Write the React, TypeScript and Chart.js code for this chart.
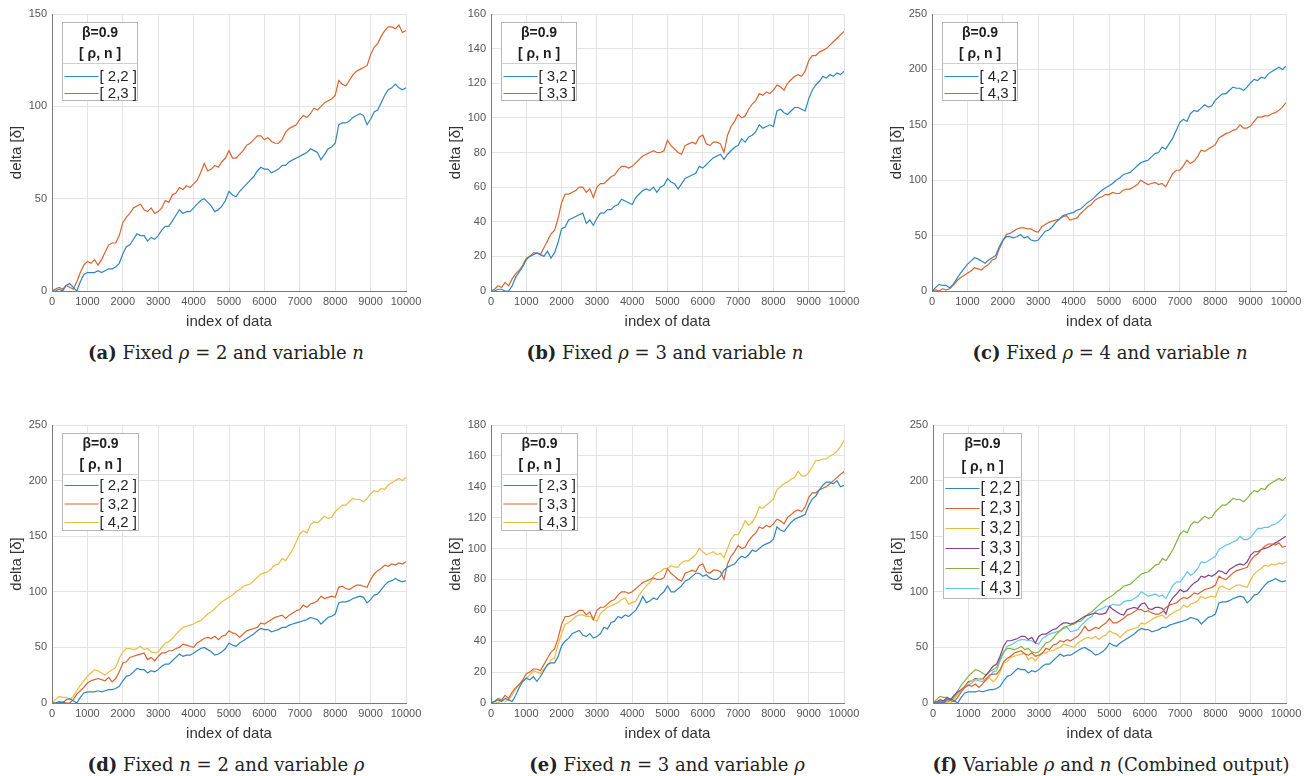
import React, { useEffect, useRef } from "react";
import { Chart, registerables } from "chart.js";
Chart.register(...registerables);

// ---------- DATA ----------
// index of data (sampled every 100 points)
const indexOfData: number[] = Array.from({ length: 101 }, (_, i) => i * 100);
const xTicks: number[] = [0, 1000, 2000, 3000, 4000, 5000, 6000, 7000, 8000, 9000, 10000];

// delta values for each [rho, n] configuration (beta = 0.9)
const s22: number[] = [0, 0, 1, 0, 3, 4, 2, 0, 5, 9,
  10, 10, 10, 11, 10, 11, 12, 12, 13, 15,
  20, 24, 25, 28, 31, 30, 30, 27, 29, 28,
  30, 33, 35, 35, 38, 41, 44, 42, 43, 43,
  45, 47, 49, 50, 48, 46, 43, 44, 46, 49,
  54, 52, 51, 54, 56, 58, 60, 62, 65, 67,
  66, 66, 64, 65, 66, 68, 68, 70, 71, 72,
  73, 74, 75, 77, 76, 75, 71, 74, 77, 78,
  80, 90, 91, 91, 92, 94, 95, 96, 95, 90,
  93, 97, 98, 102, 106, 109, 110, 112, 110, 109,
  110];
const s23: number[] = [0, 1, 2, 1, 3, 2, 1, 5, 10, 14,
  16, 15, 17, 14, 17, 21, 25, 26, 26, 30,
  37, 40, 42, 45, 46, 47, 44, 43, 45, 42,
  43, 45, 49, 48, 52, 53, 56, 55, 57, 56,
  58, 60, 64, 69, 65, 66, 68, 67, 70, 72,
  76, 72, 72, 74, 76, 79, 80, 82, 84, 84,
  82, 83, 81, 80, 80, 82, 86, 88, 89, 90,
  93, 95, 94, 96, 99, 98, 100, 102, 103, 104,
  106, 114, 112, 111, 114, 117, 119, 120, 121, 122,
  128, 132, 134, 138, 141, 143, 143, 142, 144, 140,
  141];
const s32: number[] = [0, 0, 1, 1, 0, 0, 3, 8, 11, 14,
  18, 20, 21, 22, 21, 20, 23, 19, 22, 28,
  36, 37, 41, 42, 43, 44, 45, 39, 41, 38,
  42, 45, 45, 47, 47, 49, 50, 53, 52, 51,
  50, 54, 56, 58, 59, 58, 60, 57, 60, 61,
  65, 63, 62, 59, 62, 65, 66, 67, 68, 72,
  71, 73, 75, 77, 78, 79, 76, 79, 81, 83,
  84, 88, 86, 89, 90, 92, 96, 94, 95, 96,
  95, 104, 105, 103, 102, 104, 106, 106, 105, 104,
  111, 116, 119, 121, 124, 123, 125, 124, 126, 125,
  127];
const s33: number[] = [0, 1, 3, 2, 5, 3, 7, 10, 12, 15,
  19, 20, 22, 22, 21, 25, 29, 33, 35, 42,
  51, 56, 56, 57, 58, 60, 60, 57, 59, 54,
  60, 62, 62, 64, 66, 67, 70, 72, 72, 71,
  72, 74, 76, 78, 79, 80, 81, 80, 80, 81,
  87, 84, 82, 80, 79, 84, 85, 86, 85, 89,
  90, 85, 84, 86, 86, 85, 80, 90, 95, 98,
  102, 100, 101, 105, 108, 110, 114, 113, 115, 114,
  116, 119, 118, 116, 120, 122, 124, 125, 124, 127,
  133, 136, 136, 138, 139, 140, 142, 144, 146, 148,
  150];
const s42: number[] = [0, 3, 6, 5, 5, 3, 6, 11, 16, 20,
  24, 27, 30, 29, 27, 25, 28, 30, 32, 40,
  46, 49, 49, 48, 49, 51, 48, 49, 46, 45,
  46, 50, 54, 55, 58, 62, 65, 68, 69, 70,
  71, 73, 74, 77, 80, 82, 85, 88, 91, 93,
  95, 97, 100, 102, 105, 106, 107, 110, 113, 116,
  117, 118, 121, 124, 125, 130, 128, 133, 138, 145,
  152, 155, 153, 160, 163, 162, 165, 168, 166, 167,
  172, 175, 178, 178, 181, 184, 183, 183, 181, 184,
  188, 191, 190, 193, 192, 196, 198, 200, 202, 200,
  203];
const s43: number[] = [0, 1, 0, 2, 1, 2, 5, 9, 12, 14,
  16, 18, 21, 20, 19, 22, 24, 28, 29, 38,
  45, 51, 52, 54, 56, 57, 57, 56, 56, 54,
  53, 58, 60, 62, 63, 64, 65, 67, 68, 64,
  65, 66, 70, 73, 76, 78, 82, 84, 85, 87,
  87, 89, 88, 88, 91, 92, 92, 94, 96, 100,
  98, 96, 97, 98, 96, 97, 94, 100, 106, 109,
  109, 113, 118, 115, 117, 121, 127, 126, 128, 130,
  132, 138, 140, 142, 143, 145, 146, 150, 147, 147,
  149, 153, 157, 157, 158, 158, 160, 161, 163, 166,
  170];

const seriesLabels = { s22: "[ 2,2 ]", s23: "[ 2,3 ]", s32: "[ 3,2 ]", s33: "[ 3,3 ]", s42: "[ 4,2 ]", s43: "[ 4,3 ]" };

// ---------- STYLE ----------
const C = {
  blue: "#2f86c0",
  orange: "#d9642f",
  yellow: "#ebbb42",
  purple: "#86408f",
  green: "#80b33c",
  lightblue: "#62c4ec",
};
const SANS = '"Liberation Sans", Arial, Helvetica, sans-serif';

type Series = { label: string; data: number[]; color: string };
type LegendCfg = { t1: number; t2: number; sep: number; first: number; spacing: number; bottom: number; width: number; font: number };

const legendSmall: LegendCfg = { t1: 11, t2: 32, sep: 40, first: 54, spacing: 17, bottom: 7, width: 75, font: 15 };
const legendMid: LegendCfg = { t1: 11, t2: 32, sep: 40, first: 52, spacing: 18.5, bottom: 8, width: 76, font: 15 };
const legendBig: LegendCfg = { t1: 11, t2: 34, sep: 43, first: 55, spacing: 20, bottom: 10, width: 78, font: 16 };

type PanelCfg = {
  L: number; R: number; T: number; B: number;
  yMax: number; yStep: number;
  series: Series[];
  legend: LegendCfg;
  cap: { x: number; y: number; tag: string; body: React.ReactNode };
};

const panels: PanelCfg[] = [
  {
    L: 52, R: 406, T: 14, B: 291, yMax: 150, yStep: 50, legend: legendSmall,
    series: [
      { label: seriesLabels.s22, data: s22, color: C.blue },
      { label: seriesLabels.s23, data: s23, color: C.orange },
    ],
    cap: { x: 226, y: 353, tag: "(a)", body: <>Fixed <i>ρ</i> = 2 and variable <i>n</i></> },
  },
  {
    L: 491, R: 844, T: 14, B: 291, yMax: 160, yStep: 20, legend: legendSmall,
    series: [
      { label: seriesLabels.s32, data: s32, color: C.blue },
      { label: seriesLabels.s33, data: s33, color: C.orange },
    ],
    cap: { x: 665, y: 353, tag: "(b)", body: <>Fixed <i>ρ</i> = 3 and variable <i>n</i></> },
  },
  {
    L: 932, R: 1286, T: 14, B: 291, yMax: 250, yStep: 50, legend: legendSmall,
    series: [
      { label: seriesLabels.s42, data: s42, color: C.blue },
      { label: seriesLabels.s43, data: s43, color: C.orange },
    ],
    cap: { x: 1110, y: 353, tag: "(c)", body: <>Fixed <i>ρ</i> = 4 and variable <i>n</i></> },
  },
  {
    L: 52, R: 406, T: 425, B: 703, yMax: 250, yStep: 50, legend: legendMid,
    series: [
      { label: seriesLabels.s22, data: s22, color: C.blue },
      { label: seriesLabels.s32, data: s32, color: C.orange },
      { label: seriesLabels.s42, data: s42, color: C.yellow },
    ],
    cap: { x: 226, y: 765, tag: "(d)", body: <>Fixed <i>n</i> = 2 and variable <i>ρ</i></> },
  },
  {
    L: 491, R: 844, T: 425, B: 703, yMax: 180, yStep: 20, legend: legendMid,
    series: [
      { label: seriesLabels.s23, data: s23, color: C.blue },
      { label: seriesLabels.s33, data: s33, color: C.orange },
      { label: seriesLabels.s43, data: s43, color: C.yellow },
    ],
    cap: { x: 667, y: 765, tag: "(e)", body: <>Fixed <i>n</i> = 3 and variable <i>ρ</i></> },
  },
  {
    L: 933, R: 1286, T: 425, B: 703, yMax: 250, yStep: 50, legend: legendBig,
    series: [
      { label: seriesLabels.s22, data: s22, color: C.blue },
      { label: seriesLabels.s23, data: s23, color: C.orange },
      { label: seriesLabels.s32, data: s32, color: C.yellow },
      { label: seriesLabels.s33, data: s33, color: C.purple },
      { label: seriesLabels.s42, data: s42, color: C.green },
      { label: seriesLabels.s43, data: s43, color: C.lightblue },
    ],
    cap: { x: 1111, y: 765, tag: "(f)", body: <>Variable <i>ρ</i> and <i>n</i> (Combined output)</> },
  },
];

const Y_AXIS_W = 52;
const X_AXIS_H = 42;
const PAD_TOP = 12;
const PAD_RIGHT = 34;

const legendPlugin = {
  id: "betaLegend",
  afterDatasetsDraw(chart: any, _args: any, opts: any) {
    const cfg: LegendCfg = opts.cfg;
    if (!cfg) return;
    const ctx: CanvasRenderingContext2D = chart.ctx;
    const { left, top } = chart.chartArea;
    const ds = chart.data.datasets;
    const bx = Math.round(left + 10) + 0.5;
    const by = Math.round(top + 8) + 0.5;
    const w = cfg.width;
    const h = cfg.first + (ds.length - 1) * cfg.spacing + cfg.bottom;
    ctx.save();
    ctx.fillStyle = "#ffffff";
    ctx.fillRect(bx, by, w, h);
    ctx.strokeStyle = "#b8b8b8";
    ctx.lineWidth = 1;
    ctx.strokeRect(bx, by, w, h);
    ctx.fillStyle = "#1e1e1e";
    ctx.textAlign = "center";
    ctx.textBaseline = "middle";
    ctx.font = `bold 14px ${SANS}`;
    ctx.fillText("β=0.9", bx + w / 2, by + cfg.t1);
    ctx.fillText("[ ρ, n ]", bx + w / 2, by + cfg.t2);
    ctx.strokeStyle = "#d0d0d0";
    ctx.beginPath();
    ctx.moveTo(bx, Math.round(by + cfg.sep) + 0.5);
    ctx.lineTo(bx + w, Math.round(by + cfg.sep) + 0.5);
    ctx.stroke();
    ctx.textAlign = "left";
    ctx.font = `${cfg.font}px ${SANS}`;
    ds.forEach((d: any, i: number) => {
      const y = by + cfg.first + i * cfg.spacing;
      ctx.strokeStyle = d.borderColor;
      ctx.lineWidth = 1.2;
      ctx.beginPath();
      ctx.moveTo(bx + 2, y);
      ctx.lineTo(bx + 36, y);
      ctx.stroke();
      ctx.fillStyle = "#262626";
      ctx.fillText(d.label, bx + 37, y + 0.5);
    });
    ctx.restore();
  },
};

function Panel({ p }: { p: PanelCfg }) {
  const ref = useRef<HTMLCanvasElement>(null);
  const width = p.R - p.L + Y_AXIS_W + PAD_RIGHT;
  const height = p.B - p.T + PAD_TOP + X_AXIS_H;
  useEffect(() => {
    if (!ref.current) return;
    const chart = new Chart(ref.current, {
      type: "line",
      data: {
        datasets: p.series.map((s) => ({
          label: s.label,
          data: s.data.map((v, i) => ({ x: indexOfData[i], y: v })),
          borderColor: s.color,
          backgroundColor: s.color,
          borderWidth: 1.2,
          pointRadius: 0,
          tension: 0,
          fill: false,
        })),
      },
      options: {
        animation: false,
        responsive: false,
        events: [],
        layout: { padding: { left: 0, top: PAD_TOP, right: PAD_RIGHT, bottom: 0 } },
        plugins: {
          legend: { display: false },
          tooltip: { enabled: false },
          betaLegend: { cfg: p.legend },
        } as any,
        scales: {
          x: {
            type: "linear",
            min: 0,
            max: 10000,
            afterBuildTicks: (scale: any) => {
              scale.ticks = xTicks.map((v) => ({ value: v }));
            },
            afterFit: (scale: any) => {
              scale.height = X_AXIS_H;
            },
            ticks: {
              color: "#555555",
              font: { family: SANS, size: 11 },
              padding: 4,
              maxRotation: 0,
              autoSkip: false,
              callback: (v: any) => String(v),
            },
            grid: { color: "#e4e4e4", lineWidth: 1, drawTicks: false },
            border: { color: "#7a7a7a", width: 1 },
            title: {
              display: true,
              text: "index of data",
              color: "#333333",
              font: { family: SANS, size: 15 },
              padding: { top: 0, bottom: 2 },
            },
          },
          y: {
            type: "linear",
            min: 0,
            max: p.yMax,
            afterFit: (scale: any) => {
              scale.width = Y_AXIS_W;
            },
            ticks: {
              stepSize: p.yStep,
              color: "#555555",
              font: { family: SANS, size: 11 },
              padding: 5,
              callback: (v: any) => String(v),
            },
            grid: { color: "#e4e4e4", lineWidth: 1, drawTicks: false },
            border: { color: "#7a7a7a", width: 1 },
            title: {
              display: true,
              text: "delta [δ]",
              color: "#333333",
              font: { family: SANS, size: 15 },
              padding: { top: 8, bottom: 0 },
            },
          },
        },
      },
      plugins: [legendPlugin as any],
    } as any);
    return () => chart.destroy();
  }, []);
  return (
    <canvas
      ref={ref}
      width={width}
      height={height}
      style={{ position: "absolute", left: p.L - Y_AXIS_W, top: p.T - PAD_TOP, width, height }}
    />
  );
}

export default function App() {
  return (
    <div style={{ position: "absolute", left: 0, top: 0, width: 1311, height: 776, background: "#ffffff", overflow: "hidden" }}>
      {panels.map((p, i) => (
        <Panel key={i} p={p} />
      ))}
      {panels.map((p, i) => (
        <div
          key={"c" + i}
          style={{
            position: "absolute",
            left: p.cap.x - 250,
            top: p.cap.y - 12,
            width: 500,
            textAlign: "center",
            fontFamily: '"DejaVu Serif", "Liberation Serif", serif',
            fontSize: 18,
            lineHeight: "24px",
            color: "#222222",
            whiteSpace: "nowrap",
          }}
        >
          <b>{p.cap.tag}</b> {p.cap.body}
        </div>
      ))}
    </div>
  );
}
